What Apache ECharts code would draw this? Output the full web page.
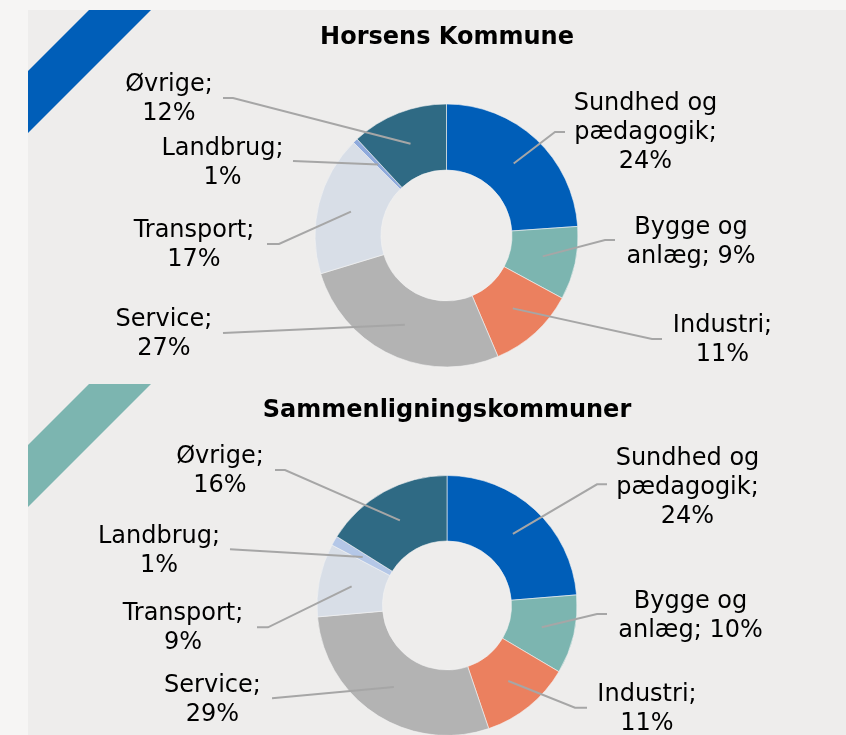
<!DOCTYPE html>
<html>
<head>
<meta charset="utf-8">
<script src="https://cdn.jsdelivr.net/npm/echarts@6/dist/echarts.min.js"></script>
<style>
html,body{margin:0;padding:0;background:#F6F5F4;}
#chart{width:846px;height:735px;}
</style>
</head>
<body>
<div id="chart"></div>
<script>
// ---- data ----
const categories = ['Sundhed og pædagogik', 'Bygge og anlæg', 'Industri', 'Service', 'Transport', 'Landbrug', 'Øvrige'];
const labelTemplates = ['Sundhed og\npædagogik;\n{p}%', 'Bygge og\nanlæg; {p}%', 'Industri;\n{p}%', 'Service;\n{p}%', 'Transport;\n{p}%', 'Landbrug;\n{p}%', 'Øvrige;\n{p}%'];
const horsensValues = [23.9, 9.0, 10.7, 26.7, 17.2, 0.6, 11.9];
const comparisonValues = [23.7, 9.8, 11.3, 28.8, 9.1, 1.2, 16.1];
const chartTitles = ['Horsens Kommune', 'Sammenligningskommuner'];

// ---- styles / layout ----
const colorsA = ['#005EB8', '#7CB5B0', '#EB805F', '#B3B3B3', '#D8DEE7', '#8FAADC', '#2F6A84'];
const colorsB = ['#005EB8', '#7CB5B0', '#EB805F', '#B3B3B3', '#D8DEE7', '#B4C7E7', '#2F6A84'];
const FONT = '"DejaVu Sans", Verdana, sans-serif';
const pies = [
  {center: [446.5, 235.5], radius: [65.5, 131.5]},
  {center: [447, 605.5], radius: [64.5, 130]}
];
// label block centres and leader-line end/elbow points
const labelPosA = [
  {x: 645.5, y: 133, elbow: [555, 132], end: [565, 132]},
  {x: 691, y: 242.5, elbow: [605, 240], end: [615, 240]},
  {x: 722.5, y: 340.5, elbow: [652, 339], end: [662, 339]},
  {x: 164, y: 334.5, elbow: null, end: [223, 333]},
  {x: 194, y: 245.5, elbow: [279, 244], end: [267, 244]},
  {x: 222.5, y: 163, elbow: null, end: [293, 161]},
  {x: 169, y: 99.5, elbow: [233, 98], end: [223, 98]}
];
const labelPosB = [
  {x: 687.5, y: 487.3, elbow: [597, 484.3], end: [607, 484.3]},
  {x: 690.5, y: 616.2, elbow: [597, 614], end: [607, 614]},
  {x: 647, y: 709.2, elbow: [575, 707.7], end: [587, 707.7]},
  {x: 212.5, y: 699.8, elbow: null, end: [272, 698.3]},
  {x: 183, y: 628.3, elbow: [268, 627.3], end: [257, 627.3]},
  {x: 159, y: 551.2, elbow: null, end: [230, 549.3]},
  {x: 220, y: 471.2, elbow: [285, 470], end: [275, 470]}
];

function baseSeries(values, pie) {
  return {
    type: 'pie',
    center: pie.center,
    radius: pie.radius,
    startAngle: 90,
    clockwise: true,
    avoidLabelOverlap: false,
    minShowLabelAngle: 0,
    animation: false,
    silent: true,
    emphasis: {disabled: true}
  };
}

// the coloured ring (no labels)
function ringSeries(values, colors, pie) {
  return Object.assign(baseSeries(values, pie), {
    z: 2,
    itemStyle: {borderColor: '#F4F4F4', borderWidth: 0.6},
    label: {show: false},
    labelLine: {show: false},
    data: categories.map((c, i) => ({name: c, value: values[i], itemStyle: {color: colors[i]}}))
  });
}

// transparent copy on top carrying the labels and leader lines
function labelSeries(values, pie, pos) {
  const total = values.reduce((a, b) => a + b, 0);
  const midR = (pie.radius[0] + pie.radius[1]) / 2;
  return Object.assign(baseSeries(values, pie), {
    z: 5,
    itemStyle: {color: 'rgba(0,0,0,0)', borderWidth: 0},
    label: {
      show: true,
      position: 'outside',
      color: '#000',
      fontFamily: FONT,
      fontSize: 24,
      lineHeight: 29,
      formatter: p => labelTemplates[p.dataIndex].replace('{p}', Math.round(p.value / total * 100))
    },
    labelLine: {show: true, length: 10, length2: 10, smooth: false,
      lineStyle: {color: '#A6A6A6', width: 2, opacity: 1}},
    labelLayout: function (params) {
      const lp = pos[params.dataIndex];
      let start;
      const pts = params.labelLinePoints;
      if (pts && pts.length) {
        const dx = pts[0][0] - pie.center[0], dy = pts[0][1] - pie.center[1];
        const d = Math.sqrt(dx * dx + dy * dy) || 1;
        start = [pie.center[0] + dx / d * midR, pie.center[1] + dy / d * midR];
      } else {
        start = lp.end;
      }
      const linePts = lp.elbow ? [start, lp.elbow, lp.end] : [start, lp.end];
      return {x: lp.x, y: lp.y, align: 'center', verticalAlign: 'middle', labelLinePoints: linePts};
    },
    data: categories.map((c, i) => ({name: c, value: values[i]}))
  });
}

const chart = echarts.init(document.getElementById('chart'), null, {renderer: 'canvas'});
chart.setOption({
  backgroundColor: '#F6F5F4',
  animation: false,
  graphic: [
    {type: 'rect', z: -10, silent: true, shape: {x: 28, y: 10, width: 818, height: 725}, style: {fill: '#EEEDEC'}},
    {type: 'polygon', z: -9, silent: true, shape: {points: [[89, 10], [151, 10], [28, 133], [28, 71]]}, style: {fill: '#005EB8'}},
    {type: 'polygon', z: -9, silent: true, shape: {points: [[89, 384], [151, 384], [28, 507], [28, 445]]}, style: {fill: '#7CB5B0'}},
    {type: 'text', z: 10, silent: true, x: 447, y: 38, style: {text: chartTitles[0], fill: '#000', fontFamily: FONT, fontWeight: 'bold', fontSize: 24, align: 'center', verticalAlign: 'middle'}},
    {type: 'text', z: 10, silent: true, x: 447, y: 411, style: {text: chartTitles[1], fill: '#000', fontFamily: FONT, fontWeight: 'bold', fontSize: 24, align: 'center', verticalAlign: 'middle'}}
  ],
  series: [
    ringSeries(horsensValues, colorsA, pies[0]),
    ringSeries(comparisonValues, colorsB, pies[1]),
    labelSeries(horsensValues, pies[0], labelPosA),
    labelSeries(comparisonValues, pies[1], labelPosB)
  ]
});
</script>
</body>
</html>
